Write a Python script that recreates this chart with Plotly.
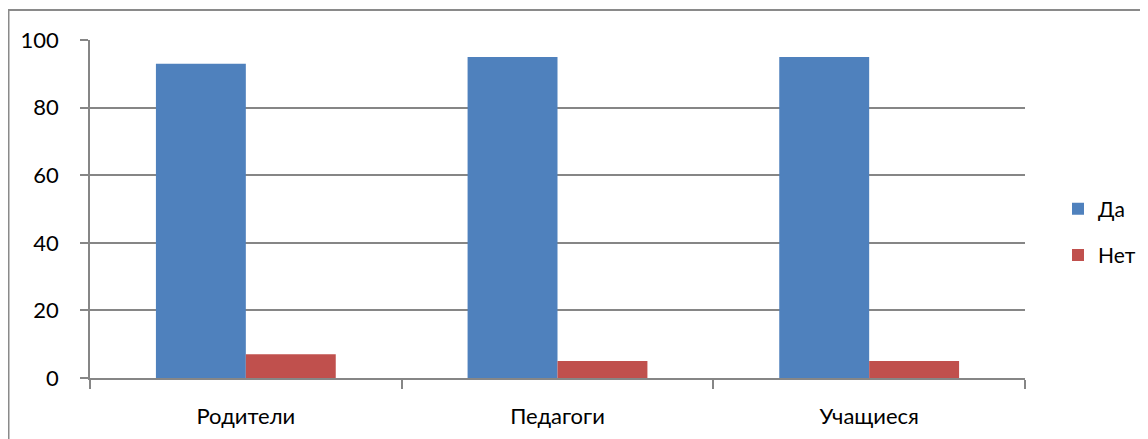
import plotly.graph_objects as go

categories = ["Родители", "Педагоги", "Учащиеся"]
yes_values = [93, 95, 95]
no_values = [7, 5, 5]
series_names = ["Да", "Нет"]
y_ticks = [0, 20, 40, 60, 80, 100]

# page has an 8px body margin, so the figure is sized/offset to compensate
W, H = 1140, 431
L, R, T, B = 82, 0, 32, 61
pw, ph = W - L - R, H - T - B
plot_w = 1017 - L  # plot area width in px; the rest of paper holds the legend

font = dict(family="Lato, Carlito, Calibri, sans-serif", size=22, color="#000000")
legend_font = dict(family=font["family"], size=21, color="#000000")

fig = go.Figure()
fig.add_trace(go.Bar(x=categories, y=yes_values, name=series_names[0],
                     marker=dict(color="#4F81BD", line=dict(width=0)),
                     legendgroup="a"))
fig.add_trace(go.Bar(x=categories, y=no_values, name=series_names[1],
                     marker=dict(color="#C0504D", line=dict(width=0)),
                     legendgroup="b"))

grid = "#868686"
fig.update_layout(
    width=W, height=H,
    margin=dict(l=L, r=R, t=T, b=B, pad=0),
    paper_bgcolor="white", plot_bgcolor="white",
    font=font,
    barmode="group", bargap=0.423, bargroupgap=0,
    showlegend=True,
    legend=dict(x=(1050 - L) / pw, y=(370 - 224) / ph, xanchor="left", yanchor="middle",
                font=legend_font,
                traceorder="grouped", tracegroupgap=16,
                bgcolor="rgba(0,0,0,0)", itemwidth=30),
    xaxis=dict(domain=[0, plot_w / pw], showgrid=False, showline=True,
               linecolor=grid, linewidth=1.5,
               ticks="outside", tickson="boundaries", ticklen=9, tickcolor=grid,
               tickwidth=1.5, tickfont=font, ticklabelstandoff=18),
    yaxis=dict(range=[0, 100], tickvals=y_ticks, showgrid=True, gridcolor=grid,
               gridwidth=1.5, showline=True, linecolor=grid, linewidth=1.5,
               ticks="outside", ticklen=8, tickcolor=grid, tickwidth=1.5,
               tickfont=font, zeroline=False, ticklabelstandoff=17),
    shapes=[dict(type="rect", xref="paper", yref="paper",
                 x0=(0.5 - L) / pw, x1=(W + 20 - L) / pw,
                 y0=-(B + 20) / ph, y1=1 + (T - 2) / ph,
                 line=dict(color="#8a8a8a", width=2), fillcolor="rgba(0,0,0,0)",
                 layer="below")],
)

fig.write_html("out.html")
